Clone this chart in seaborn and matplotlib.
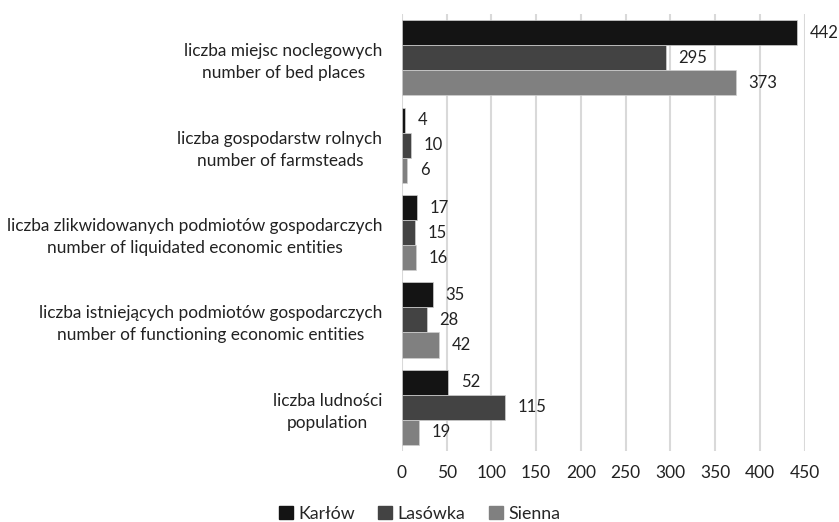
import matplotlib
matplotlib.use("Agg")
import matplotlib.pyplot as plt
import seaborn as sns
import pandas as pd

categories = [
    "liczba miejsc noclegowych\nnumber of bed places",
    "liczba gospodarstw rolnych\nnumber of farmsteads",
    "liczba zlikwidowanych podmiotów gospodarczych\nnumber of liquidated economic entities",
    "liczba istniejących podmiotów gospodarczych\nnumber of functioning economic entities",
    "liczba ludności\npopulation",
]
series = ["Karłów", "Lasówka", "Sienna"]
karlow = [442, 4, 17, 35, 52]
lasowka = [295, 10, 15, 28, 115]
sienna = [373, 6, 16, 42, 19]
colors = ["#141414", "#434343", "#808080"]
xticks = [0, 50, 100, 150, 200, 250, 300, 350, 400, 450]

rows = []
for name, vals in zip(series, [karlow, lasowka, sienna]):
    for c, v in zip(categories, vals):
        rows.append({"category": c, "series": name, "value": v})
df = pd.DataFrame(rows)

sns.set_theme(style="white")
plt.rcParams["font.family"] = ["Lato", "DejaVu Sans"]

fig = plt.figure(figsize=(8.39, 5.22), dpi=100)
ax = fig.add_axes([0.479, 0.136, 0.48, 0.837])
sns.barplot(data=df, y="category", x="value", hue="series", order=categories,
            hue_order=series, palette=colors, width=0.86, orient="h", ax=ax,
            edgecolor="#d0d0d0", linewidth=0.5, err_kws={"linewidth": 0})

for cont in ax.containers:
    ax.bar_label(cont, padding=9, fontsize=12, color="#222222")

ax.set_xlim(0, 450)
ax.set_xticks(xticks)
ax.set_xlabel("")
ax.set_ylabel("")
ax.grid(axis="x", color="#d9d9d9", linewidth=1.5)
ax.set_axisbelow(True)
for s in ax.spines.values():
    s.set_visible(False)
ax.tick_params(axis="x", labelsize=12.5, colors="#222222", length=0, pad=10)
ax.tick_params(axis="y", labelsize=12.4, colors="#222222", length=0, pad=14)
for lab in ax.get_yticklabels():
    lab.set_multialignment("center")
    lab.set_linespacing(1.45)

ax.legend_.remove()
handles = [plt.Rectangle((0, 0), 1, 1, color=c) for c in colors]
fig.legend(handles, series, loc="lower center", ncol=3, frameon=False,
           fontsize=12.8, handlelength=0.8, handleheight=0.8, handletextpad=0.3,
           columnspacing=1.3, bbox_to_anchor=(0.5, -0.03))

fig.savefig("out.png", dpi=100)
